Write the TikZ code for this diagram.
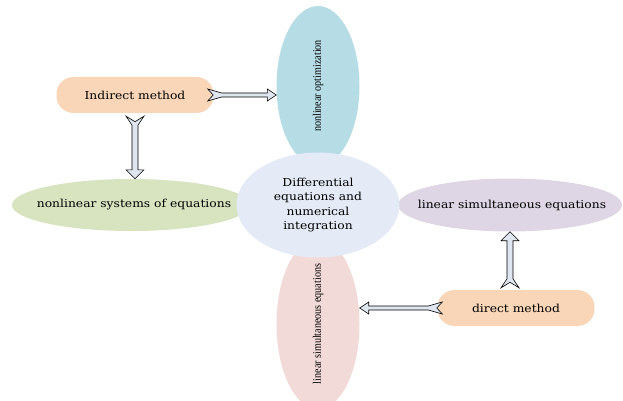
\documentclass[tikz,border=0pt]{standalone}
\usepackage{fontspec}
\usepackage{graphicx}
\setmainfont[FakeStretch=1.12]{DejaVu Serif}
\newfontfamily\narrowfont[FakeStretch=0.88]{Liberation Serif}
\usetikzlibrary{shapes.geometric,calc}

\definecolor{peach}{RGB}{250,214,184}
\definecolor{optblue}{RGB}{182,220,230}
\definecolor{grnfill}{RGB}{216,228,192}
\definecolor{linfill}{RGB}{222,214,228}
\definecolor{pnkfill}{RGB}{242,218,216}
\definecolor{ctrfill}{RGB}{229,235,246}
\definecolor{arrowfill}{RGB}{224,230,240}

\tikzset{
  blob/.style={ellipse, inner sep=0pt, font=\fontsize{11}{14.5}\selectfont},
  upright/.style={font=\narrowfont\fontsize{11.5}{13}\selectfont},
  method/.style={rounded corners=17pt, fill=peach, minimum width=157pt, minimum height=36pt, font=\fontsize{11}{13}\selectfont},
  fatarrow/.style n args={3}{draw=black, line width=0.6pt, fill=arrowfill, line join=miter,
    to path={
      ($(\tikztostart)!#1!90:(\tikztotarget)$)
      -- ($(\tikztostart)!#3!(\tikztotarget)!#2!90:(\tikztotarget)$)
      -- ($(\tikztotarget)!9pt!(\tikztostart)!#2!90:(\tikztotarget)$)
      -- ($(\tikztotarget)!9pt!(\tikztostart)!#1!90:(\tikztotarget)$)
      -- (\tikztotarget)
      -- ($(\tikztotarget)!9pt!(\tikztostart)!#1!-90:(\tikztotarget)$)
      -- ($(\tikztotarget)!9pt!(\tikztostart)!#2!-90:(\tikztotarget)$)
      -- ($(\tikztostart)!#3!(\tikztotarget)!#2!-90:(\tikztotarget)$)
      -- ($(\tikztostart)!#1!-90:(\tikztotarget)$)
      -- ($(\tikztostart)!5.5pt!(\tikztotarget)$)
      -- cycle}}
}

\begin{document}
\begin{tikzpicture}[x=1pt,y=-1pt]
\useasboundingbox (0,0) rectangle (623,401);

\node[blob, fill=grnfill, minimum width=238pt, minimum height=52pt] (grn) at (131,205) {};
\node[font=\fontsize{11}{13}\selectfont] (grntxt) at (134,205) {nonlinear systems of equations};
\node[blob, fill=linfill, minimum width=224pt, minimum height=53pt] (lin) at (510,205) {};
\node[font=\fontsize{11}{13}\selectfont] (lintxt) at (512,205) {linear simultaneous equations};
\node[blob, upright, fill=optblue, minimum width=83pt, minimum height=160pt] (opt) at (318,86) {\rotatebox{90}{nonlinear optimization}};
\node[blob, upright, fill=pnkfill, minimum width=83pt, minimum height=152pt] (pnk) at (318,324) {\rotatebox{90}{linear simultaneous equations}};

\node[blob, fill=ctrfill, minimum width=163pt, minimum height=105pt, align=center] (ctr) at (318,205) {Differential\\equations and\\numerical\\integration};

\node[method] (ind) at (135,95) {Indirect method};
\node[method] (dir) at (516,308) {direct method};

\draw[fatarrow={6pt}{2pt}{14pt}] ([xshift=-6pt]ind.east) to (opt.west |- ind.east);
\draw[fatarrow={9pt}{3pt}{9pt}] ([yshift=-3pt]ind.south) to (grn.north -| ind.south);
\draw[fatarrow={9pt}{3pt}{9pt}] ([yshift=2pt]dir.north -| lin.south) to (lin.south);
\draw[fatarrow={6pt}{2pt}{14pt}] ([xshift=5pt]dir.west) to (pnk.east |- dir.west);
\end{tikzpicture}
\end{document}
